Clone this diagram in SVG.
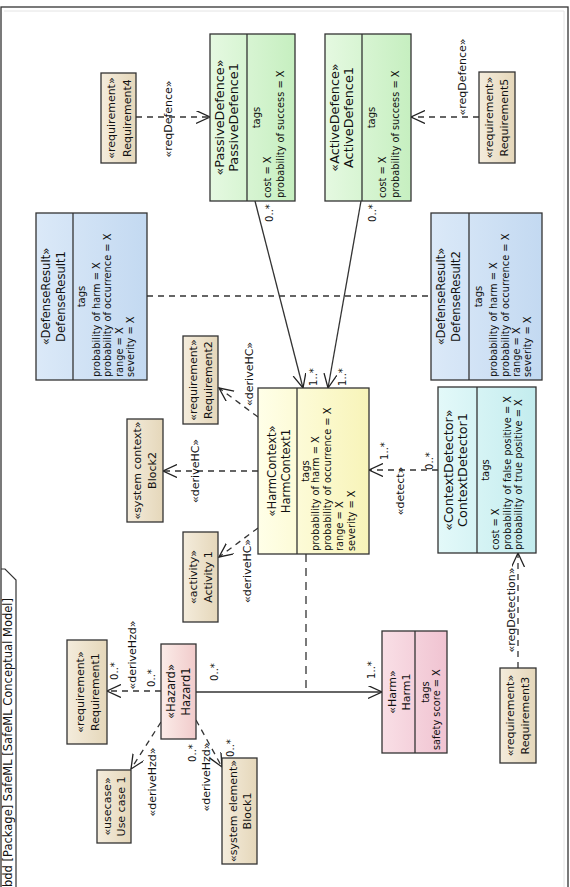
<svg xmlns="http://www.w3.org/2000/svg" width="570" height="887" viewBox="0 0 570 887">
<style>
.box{stroke:#333;stroke-width:1.3}
.sep{stroke:#333;stroke-width:1.3}
text{font-family:"DejaVu Sans","Liberation Sans",sans-serif;fill:#111}
.t{font-size:11px;text-anchor:middle}
.tc{font-size:11.6px;text-anchor:middle}
.tb{font-size:12.8px;text-anchor:middle}
.tg{font-size:10px;text-anchor:middle}
.tl{font-size:9.8px;text-anchor:start}
.lb{font-size:11px;text-anchor:middle}
.m{font-size:10px;text-anchor:middle}
.d{fill:none;stroke:#333;stroke-width:1.3;stroke-dasharray:6 5}
.d2{fill:none;stroke:#333;stroke-width:1.3;stroke-dasharray:8 6}
.s{fill:none;stroke:#333;stroke-width:1.3}
</style>
<defs>
<marker id="arr" markerUnits="userSpaceOnUse" markerWidth="16" markerHeight="14" refX="14" refY="6.5" orient="auto"><path d="M0,0 L14,6.5 L0,13" fill="none" stroke="#222" stroke-width="1.3"/></marker>
<linearGradient id="gReq" x1="0" y1="0" x2="0" y2="1"><stop offset="0" stop-color="#f4ecdc"/><stop offset="1" stop-color="#e5d7ba"/></linearGradient>
<linearGradient id="gHaz" x1="0" y1="0" x2="0" y2="1"><stop offset="0" stop-color="#fbece8"/><stop offset="1" stop-color="#f1cbcb"/></linearGradient>
<linearGradient id="gHarm" x1="0" y1="0" x2="0" y2="1"><stop offset="0" stop-color="#f9dfe6"/><stop offset="1" stop-color="#f0c3d1"/></linearGradient>
<linearGradient id="gHC" x1="0" y1="0" x2="0" y2="1"><stop offset="0" stop-color="#ffffe8"/><stop offset="1" stop-color="#f8f4b9"/></linearGradient>
<linearGradient id="gCD" x1="0" y1="0" x2="0" y2="1"><stop offset="0" stop-color="#e3f9f9"/><stop offset="1" stop-color="#c3ecee"/></linearGradient>
<linearGradient id="gDR" x1="0" y1="0" x2="0" y2="1"><stop offset="0" stop-color="#dbe9f8"/><stop offset="1" stop-color="#c3d9f1"/></linearGradient>
<linearGradient id="gDef" x1="0" y1="0" x2="0" y2="1"><stop offset="0" stop-color="#e5f9e1"/><stop offset="1" stop-color="#c6efc0"/></linearGradient>
</defs>
<rect width="570" height="887" fill="#fff"/>
<g transform="translate(0,887) rotate(-90)">
<g id="frame">
<rect x="-2" y="1" width="882" height="567" fill="none" stroke="#333" stroke-width="1.3"/>
<polyline points="876,4 876,564 -2,564" fill="none" stroke="#e4e4e4" stroke-width="1"/>
<polyline points="-2,16 307,16 318,5 318,1" fill="none" stroke="#333" stroke-width="1.2"/>
<text x="0" y="12" style="font-size:11.5px">bdd [Package] SafeML [SafeML Conceptual Model]</text>
</g>
<g id="connectors">
<line class="d" x1="770" y1="136" x2="770" y2="210" marker-end="url(#arr)"/>
<text class="lb" x="768" y="172">«reqDefence»</text>
<line class="d" x1="770" y1="479" x2="770" y2="411" marker-end="url(#arr)"/>
<text class="lb" x="810" y="466">«reqDefence»</text>
<line class="s" x1="686" y1="255" x2="499" y2="303" marker-end="url(#arr)"/>
<text class="m" x="674" y="273">0..*</text>
<text class="m" x="510" y="317">1..*</text>
<line class="s" x1="686" y1="361" x2="499" y2="328" marker-end="url(#arr)"/>
<text class="m" x="674" y="376">0..*</text>
<text class="m" x="510" y="346">1..*</text>
<line class="d" x1="591" y1="147" x2="591" y2="431"/>
<line class="d" x1="416" y1="258" x2="416" y2="163" marker-end="url(#arr)"/>
<text class="lb" x="416" y="199">«deriveHC»</text>
<line class="d" x1="470" y1="258" x2="499" y2="219" marker-end="url(#arr)"/>
<text class="lb" x="513" y="253">«deriveHC»</text>
<line class="d" x1="359" y1="258" x2="330" y2="219" marker-end="url(#arr)"/>
<text class="lb" x="316" y="251">«deriveHC»</text>
<line class="d" x1="417" y1="438" x2="417" y2="369" marker-end="url(#arr)"/>
<text class="lb" x="396" y="404">«detect»</text>
<text class="m" x="436" y="388">1..*</text>
<text class="m" x="426" y="433">0..*</text>
<line class="d" x1="219" y1="518" x2="334" y2="518" marker-end="url(#arr)"/>
<text class="lb" x="277" y="515">«reqDetection»</text>
<line class="s" x1="195" y1="196" x2="195" y2="382" marker-end="url(#arr)"/>
<text class="m" x="215" y="218">0..*</text>
<text class="m" x="217" y="375">1..*</text>
<line class="d2" x1="333" y1="306" x2="195" y2="306"/>
<line class="d" x1="196" y1="161" x2="196" y2="107" marker-end="url(#arr)"/>
<text class="lb" x="232" y="136">«deriveHzd»</text>
<text class="m" x="216" y="118">0..*</text>
<text class="m" x="209" y="155">0..*</text>
<line class="d" x1="165" y1="161" x2="118" y2="131" marker-end="url(#arr)"/>
<text class="lb" x="105" y="156">«deriveHzd»</text>
<line class="d" x1="167" y1="196" x2="120" y2="222" marker-end="url(#arr)"/>
<text class="lb" x="110" y="210">«deriveHzd»</text>
<text class="m" x="134" y="196">0..*</text>
<text class="m" x="139" y="234">0..*</text>
</g>
<g id="Requirement1"><rect class="box" x="143" y="67" width="104" height="40" fill="url(#gReq)"/><text class="t" x="195" y="84">«requirement»</text><text class="t" x="195" y="99">Requirement1</text></g>
<g id="UseCase1"><rect class="box" x="44" y="97" width="73" height="34" fill="url(#gReq)"/><text class="t" x="80.5" y="110.5">«usecase»</text><text class="t" x="80.5" y="125">Use case 1</text></g>
<g id="Hazard1"><rect class="box" x="148" y="161" width="95" height="35" fill="url(#gHaz)"/><text class="tc" x="195.5" y="174.5">«Hazard»</text><text class="tc" x="195.5" y="189.5">Hazard1</text></g>
<g id="Block1"><rect class="box" x="23" y="222" width="106" height="35" fill="url(#gReq)"/><text class="t" x="76" y="237">«system element»</text><text class="t" x="76" y="251">Block1</text></g>
<g id="Block2"><rect class="box" x="365" y="127" width="103" height="36" fill="url(#gReq)"/><text class="t" x="416.5" y="140.5">«system context»</text><text class="t" x="416.5" y="155.5">Block2</text></g>
<g id="Activity1"><rect class="box" x="265" y="183" width="90" height="35" fill="url(#gReq)"/><text class="t" x="310" y="197">«activity»</text><text class="t" x="310" y="212">Activity 1</text></g>
<g id="Requirement2"><rect class="box" x="463" y="183" width="88" height="35" fill="url(#gReq)"/><text class="t" x="507" y="197">«requirement»</text><text class="t" x="507" y="212">Requirement2</text></g>
<g id="Requirement4"><rect class="box" x="724" y="101" width="90" height="35" fill="url(#gReq)"/><text class="t" x="769" y="115">«requirement»</text><text class="t" x="769" y="130.5">Requirement4</text></g>
<g id="Requirement5"><rect class="box" x="724" y="479" width="91" height="36" fill="url(#gReq)"/><text class="t" x="769.5" y="492.5">«requirement»</text><text class="t" x="769.5" y="508">Requirement5</text></g>
<g id="Requirement3"><rect class="box" x="124" y="500" width="95" height="36" fill="url(#gReq)"/><text class="t" x="171.5" y="514">«requirement»</text><text class="t" x="171.5" y="529">Requirement3</text></g>
<g id="DefenseResult1"><rect class="box" x="507" y="36" width="167" height="111" fill="url(#gDR)"/><line class="sep" x1="507" y1="73" x2="674" y2="73"/><text class="tc" x="590.5" y="49.5">«DefenseResult»</text><text class="tc" x="590.5" y="64.5">DefenseResult1</text><text class="tg" x="590.5" y="85">tags</text><text class="tl" x="510" y="99.5">probability of harm = X</text><text class="tl" x="510" y="111">probability of occurrence = X</text><text class="tl" x="510" y="122.5">range = X</text><text class="tl" x="510" y="134">severity = X</text></g>
<g id="DefenseResult2"><rect class="box" x="507" y="431" width="167" height="111" fill="url(#gDR)"/><line class="sep" x1="507" y1="469" x2="674" y2="469"/><text class="tc" x="590.5" y="444.5">«DefenseResult»</text><text class="tc" x="590.5" y="459.5">DefenseResult2</text><text class="tg" x="590.5" y="482">tags</text><text class="tl" x="510" y="497">probability of harm = X</text><text class="tl" x="510" y="508.5">probability of occurrence = X</text><text class="tl" x="510" y="520">range = X</text><text class="tl" x="510" y="531">severity = X</text></g>
<g id="HarmContext1"><rect class="box" x="333" y="258" width="166" height="111" fill="url(#gHC)"/><line class="sep" x1="333" y1="297" x2="499" y2="297"/><text class="tc" x="416" y="276">«HarmContext»</text><text class="tc" x="416" y="290">HarmContext1</text><text class="tg" x="416" y="308.5">tags</text><text class="tl" x="336" y="319">probability of harm = X</text><text class="tl" x="336" y="331">probability of occurrence = X</text><text class="tl" x="336" y="343">range = X</text><text class="tl" x="336" y="355">severity = X</text></g>
<g id="PassiveDefence1"><rect class="box" x="686" y="210" width="167" height="85" fill="url(#gDef)"/><line class="sep" x1="686" y1="247" x2="853" y2="247"/><text class="tb" x="769.5" y="223.5">«PassiveDefence»</text><text class="tb" x="769.5" y="238">PassiveDefence1</text><text class="tg" x="769.5" y="259.5">tags</text><text class="tl" x="689" y="271">cost = X</text><text class="tl" x="689" y="283.5">probability of success = X</text></g>
<g id="ActiveDefence1"><rect class="box" x="686" y="325" width="167" height="86" fill="url(#gDef)"/><line class="sep" x1="686" y1="362" x2="853" y2="362"/><text class="tb" x="769.5" y="338.5">«ActiveDefence»</text><text class="tb" x="769.5" y="353">ActiveDefence1</text><text class="tg" x="769.5" y="374.5">tags</text><text class="tl" x="689" y="386">cost = X</text><text class="tl" x="689" y="398.5">probability of success = X</text></g>
<g id="ContextDetector1"><rect class="box" x="334" y="438" width="166" height="98" fill="url(#gCD)"/><line class="sep" x1="334" y1="477" x2="500" y2="477"/><text class="tb" x="417" y="452.5">«ContextDetector»</text><text class="tb" x="417" y="466.5">ContextDetector1</text><text class="tg" x="417" y="488.5">tags</text><text class="tl" x="337" y="499">cost = X</text><text class="tl" x="337" y="510.5">probability of false positive = X</text><text class="tl" x="337" y="522">probability of true positive = X</text></g>
<g id="Harm1"><rect class="box" x="134" y="382" width="122" height="65" fill="url(#gHarm)"/><line class="sep" x1="134" y1="415" x2="256" y2="415"/><text class="t" x="195" y="395.5">«Harm»</text><text class="t" x="195" y="410">Harm1</text><text class="tg" x="195" y="428.5">tags</text><text class="tl" x="137" y="440">safety score = X</text></g>
</g>
</svg>
